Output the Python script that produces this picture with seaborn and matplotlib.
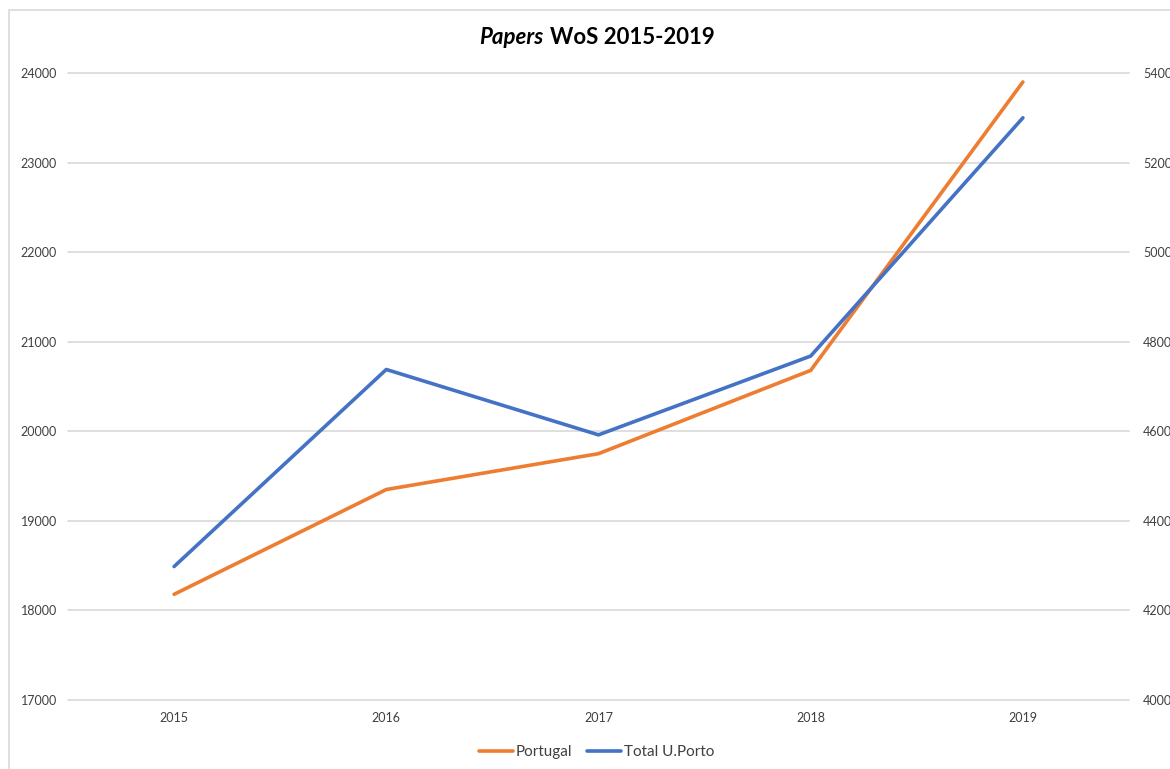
import matplotlib
matplotlib.use("Agg")
import matplotlib.pyplot as plt
import seaborn as sns
from matplotlib.patches import Rectangle

years = [2015, 2016, 2017, 2018, 2019]
portugal = [18180, 19350, 19750, 20680, 23900]
total_uporto = [4298, 4738, 4592, 4768, 5300]

left_ticks = [17000, 18000, 19000, 20000, 21000, 22000, 23000, 24000]
right_ticks = [4000, 4200, 4400, 4600, 4800, 5000, 5200, 5400]

sns.set_theme(style="white")
plt.rcParams["font.family"] = ["Lato", "DejaVu Sans"]

orange = "#ED7D31"
blue = "#4472C4"
grid = "#D9D9D9"
text_col = "#404040"

fig = plt.figure(figsize=(11.7, 7.69), dpi=100)
ax = fig.add_axes([68 / 1170, 1 - 700 / 769, (1129 - 68) / 1170, (700 - 73) / 769])
ax2 = ax.twinx()

sns.lineplot(x=years, y=portugal, ax=ax, color=orange, linewidth=2.6, label="Portugal", legend=False)
sns.lineplot(x=years, y=total_uporto, ax=ax2, color=blue, linewidth=2.6, label="Total U.Porto", legend=False)

ax.set_xlim(2014.5, 2019.5)
ax.set_ylim(17000, 24000)
ax2.set_ylim(4000, 5400)
ax.set_yticks(left_ticks)
ax2.set_yticks(right_ticks)
ax.set_xticks(years)
ax.set_xticklabels([str(y) for y in years])
ax.yaxis.grid(True, color=grid, linewidth=1.2)
for gl in ax.get_ygridlines():
    gl.set_clip_on(False)
ax.set_axisbelow(True)
ax.set_xlabel("")
ax.set_ylabel("")
ax2.set_ylabel("")

for a in (ax, ax2):
    for s in a.spines.values():
        s.set_visible(False)
ax.tick_params(axis="y", length=0, pad=8, labelsize=9, labelcolor=text_col)
ax.tick_params(axis="x", length=0, pad=9, labelsize=9, labelcolor=text_col)
ax2.tick_params(axis="y", length=0, pad=10, labelsize=9, labelcolor=text_col)

# title with italic first word
fig.text(0.4645, 0.951, "Papers", ha="right", va="center", fontsize=16,
         fontweight="bold", style="italic", color="black")
fig.text(0.4705, 0.951, "WoS 2015-2019", ha="left", va="center", fontsize=16,
         fontweight="bold", color="black")

h1, l1 = ax.get_legend_handles_labels()
h2, l2 = ax2.get_legend_handles_labels()
fig.legend(h1 + h2, l1 + l2, loc="center", bbox_to_anchor=(0.51, 0.022), ncol=2,
           frameon=False, fontsize=11, handlelength=2.2, handletextpad=0.2,
           columnspacing=1.0, labelcolor=text_col)

fig.patches.append(Rectangle((9 / 1170, -0.1), 1.2, (769 - 10) / 769 + 0.1,
                             transform=fig.transFigure, fill=False,
                             edgecolor=grid, linewidth=1.2))

fig.savefig("out.png", dpi=100)
